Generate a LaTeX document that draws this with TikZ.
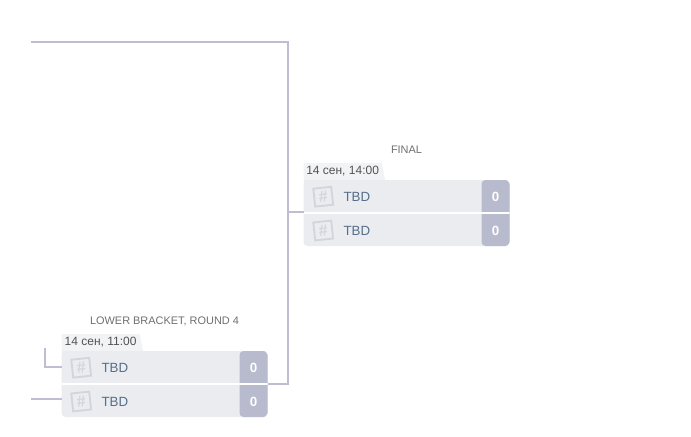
\documentclass[tikz,border=0pt]{standalone}
\usepackage{fontspec}
\setmainfont{Liberation Sans}
\usepackage{xcolor}
\usetikzlibrary{calc}
\usetikzlibrary{shapes.geometric}

\definecolor{rowgrey}{HTML}{EBECF0}
\definecolor{scoregrey}{HTML}{B8BACD}
\definecolor{linegrey}{HTML}{BFBDD3}
\definecolor{taggrey}{HTML}{F2F3F5}
\definecolor{hashgrey}{HTML}{D3D5DD}
\definecolor{teamblue}{HTML}{566F8C}
\definecolor{headgrey}{HTML}{6E6E6E}

\begin{document}
\begin{tikzpicture}[
                    x = 0.75pt, y = -0.75pt, % one unit is one pixel of the screen
                    semithick,
                    every node/.style = {outer sep = 0pt}
            ]

            \tikzstyle{matchbox}=[
                rectangle,
                rounded corners = 3pt,
                fill = rowgrey,
                minimum width = 154.5pt,
                minimum height = 49.5pt,
                inner sep = 0pt,
                path picture = {
                    \fill[scoregrey] ([xshift=-21pt]path picture bounding box.north east) rectangle (path picture bounding box.south east);
                    \draw[white, line width = 1.2pt] (path picture bounding box.west) -- (path picture bounding box.east);
                }
            ]
            \tikzstyle{datetag}=[
                trapezium,
                trapezium left angle = 90,
                trapezium right angle = 72,
                trapezium stretches = true,
                fill = taggrey,
                text = black!68,
                font = \fontsize{9pt}{10pt}\selectfont,
                minimum width = 61.5pt,
                minimum height = 12.75pt,
                inner xsep = 0pt,
                inner ysep = 0pt
            ]
            \tikzstyle{header}=[text = headgrey, font = \fontsize{8.2pt}{10pt}\selectfont]
            \tikzstyle{team}=[anchor = west, inner sep = 0pt, text = teamblue, font = \fontsize{10pt}{11pt}\selectfont]
            \tikzstyle{score}=[text = white, font = \fontsize{10pt}{11pt}\selectfont\bfseries]
            \tikzstyle{hashicon}=[
                draw = hashgrey,
                line width = 1.4pt,
                fill = rowgrey,
                text = hashgrey,
                rotate = 6,
                minimum size = 13.5pt,
                inner sep = 0pt,
                font = \fontsize{12pt}{13pt}\selectfont\bfseries
            ]
            \tikzstyle{bracket}=[draw = linegrey, line width = 1.5pt]

            \useasboundingbox (0,0) rectangle (691,436);

            % final
            \node[matchbox] (FM) at (406.5,213) {};
            \fill[rowgrey] (FM.north west) rectangle ++(6,6);
            \node[datetag, anchor = bottom left corner] (FD) at (FM.north west) {14 сен, 14:00};
            \node[header] (FH) at ($(FM.north)+(0,-30)$) {FINAL};
            \node[hashicon] (FI1) at ($(FM.north west)+(19.7,16.7)$) {\#};
            \node[hashicon] (FI2) at ($(FM.north west)+(19.7,50.5)$) {\#};
            \node[team] (FT1) at ($(FM.north west)+(40,16.5)$) {TBD};
            \node[team] (FT2) at ($(FM.north west)+(40,50.5)$) {TBD};
            \node[score] (FS1) at ($(FM.north east)+(-14,16.5)$) {0};
            \node[score] (FS2) at ($(FM.north east)+(-14,50.5)$) {0};

            % lower bracket
            \node[matchbox] (LM) at (164.5,384) {};
            \fill[rowgrey] (LM.north west) rectangle ++(6,6);
            \node[datetag, anchor = bottom left corner] (LD) at (LM.north west) {14 сен, 11:00};
            \node[header] (LH) at ($(LM.north)+(0,-30)$) {LOWER BRACKET, ROUND 4};
            \node[hashicon] (LI1) at ($(LM.north west)+(19.7,16.7)$) {\#};
            \node[hashicon] (LI2) at ($(LM.north west)+(19.7,50.5)$) {\#};
            \node[team] (LT1) at ($(LM.north west)+(40,16.5)$) {TBD};
            \node[team] (LT2) at ($(LM.north west)+(40,50.5)$) {TBD};
            \node[score] (LS1) at ($(LM.north east)+(-14,16.5)$) {0};
            \node[score] (LS2) at ($(LM.north east)+(-14,50.5)$) {0};

            \coordinate (UP) at (31,42);
            \coordinate (JOIN) at (288,212);
            \coordinate (FEED1) at (45,348);
            \coordinate (FEED2) at (31,399);
            \coordinate (LIN1) at ($(LM.north west)+(0,15.5)$);

            \draw[bracket] (UP) -| (JOIN) |- (LM.east);
            \draw[bracket] (JOIN) -- (FM.west |- JOIN);
            \draw[bracket] (FEED1) |- (LIN1);
            \draw[bracket] (FEED2) -- (LM.west |- FEED2);
        \end{tikzpicture}
\end{document}
